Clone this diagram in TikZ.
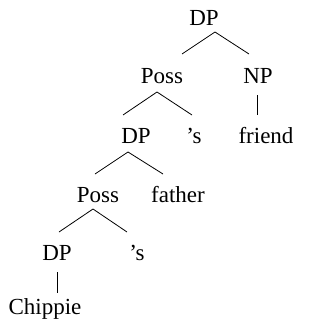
\documentclass[tikz,border=0pt]{standalone}
\usepackage{fontspec}
\setmainfont{Liberation Serif}
\begin{document}
\begin{tikzpicture}[x=1pt,y=-1pt,
  lbl/.style={anchor=base,inner sep=0pt,font=\fontsize{23}{27}\selectfont},
  edge/.style={line width=0.8pt}]
\useasboundingbox (0,0) rectangle (323,324);
\node[lbl] (dp1) at (204,25) {DP};
\node[lbl] (poss1) at (162,83) {Poss};
\node[lbl] (np) at (258,83) {NP};
\node[lbl] (dp2) at (136,143) {DP};
\node[lbl] (s1) at (194,143) {’s};
\node[lbl] (friend) at (266,143) {friend};
\node[lbl] (poss2) at (98,202) {Poss};
\node[lbl] (father) at (178,202) {father};
\node[lbl] (dp3) at (57,260) {DP};
\node[lbl] (s2) at (137,260) {’s};
\node[lbl] (chippie) at (45,314) {Chippie};
% line ends
\coordinate (dp1b) at (215,32);
\coordinate (poss1t) at (182,54);
\coordinate (npt) at (249,54);
\coordinate (npb) at (257,95);
\coordinate (friendt) at (257,115);
\coordinate (poss1b) at (157,92);
\coordinate (dp2t) at (123,115);
\coordinate (s1t) at (192,115);
\coordinate (dp2b) at (128,152);
\coordinate (poss2t) at (95,174);
\coordinate (fathert) at (163,174);
\coordinate (poss2b) at (93,209);
\coordinate (dp3t) at (59,232);
\coordinate (s2t) at (127,232);
\coordinate (dp3b) at (57,272);
\coordinate (chippiet) at (57,293);
\draw[edge] (poss1t) -- (dp1b) -- (npt);
\draw[edge] (npb) -- (friendt);
\draw[edge] (dp2t) -- (poss1b) -- (s1t);
\draw[edge] (poss2t) -- (dp2b) -- (fathert);
\draw[edge] (dp3t) -- (poss2b) -- (s2t);
\draw[edge] (dp3b) -- (chippiet);
\end{tikzpicture}
\end{document}
